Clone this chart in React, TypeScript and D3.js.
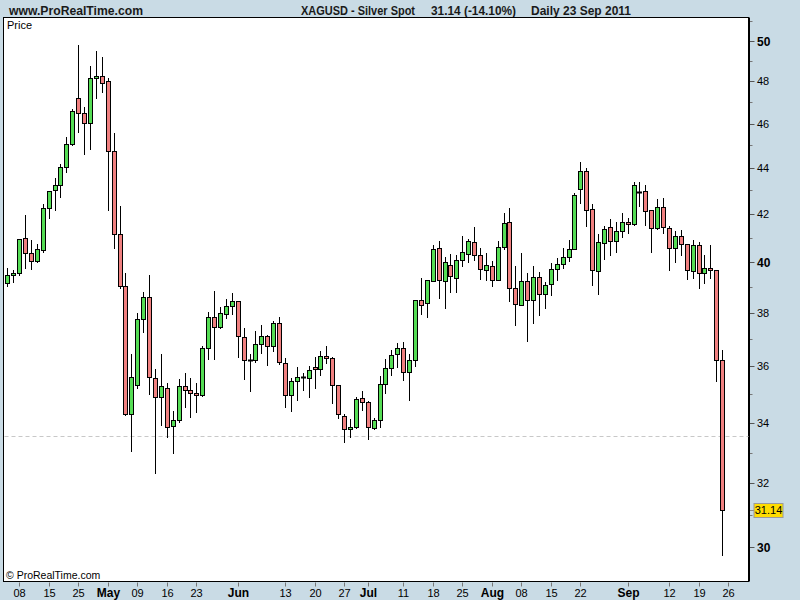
import React from 'react';
import * as d3 from 'd3';

// ---- Data ----
const opens = [39.16,39.46,39.56,40.97,40.36,40.04,40.49,42.24,43.01,43.22,44.02,45.05,47.19,46.48,46.01,48.15,48.25,48.02,44.74,41.16,39.04,34.32,35.33,37.77,38.60,35.57,34.91,35.22,33.90,34.10,35.29,35.15,35.05,34.98,36.67,37.84,37.46,37.95,38.25,38.45,37.08,36.24,36.24,36.81,37.12,36.75,37.61,36.13,34.96,35.47,35.60,35.58,35.97,35.90,36.38,36.31,35.33,34.24,33.80,33.86,34.87,34.74,33.83,34.10,35.37,35.94,36.45,36.67,35.79,36.24,38.49,38.37,39.24,40.56,39.24,39.88,39.36,40.08,40.32,40.81,40.28,39.68,39.84,39.28,40.60,41.65,38.97,38.30,39.24,38.49,39.40,38.72,39.12,39.72,39.92,40.20,40.52,43.05,43.84,42.19,39.64,40.77,41.43,40.85,41.27,41.64,41.56,42.95,42.97,42.15,41.39,42.28,41.39,40.56,41.06,40.73,39.64,40.68,39.56,39.76,39.68,36.24];
const highs = [39.76,39.69,40.94,41.95,40.90,40.73,42.42,42.97,43.53,44.15,45.37,46.67,49.80,46.76,48.76,49.50,49.20,48.15,45.55,42.34,39.56,36.46,37.99,38.81,39.49,35.90,36.46,35.40,34.40,35.54,35.76,35.58,35.40,36.75,38.02,38.85,38.22,38.53,38.76,38.46,37.42,36.45,37.31,37.54,37.16,37.69,37.84,36.31,35.58,35.97,35.76,36.01,36.34,36.57,36.74,36.34,35.34,34.32,34.14,34.91,35.12,34.77,34.17,35.65,36.27,36.60,36.85,36.89,36.45,38.49,39.37,39.28,40.68,40.86,40.20,40.32,40.28,41.06,40.93,41.43,40.56,40.36,40.04,40.85,42.02,42.24,39.84,40.36,39.56,39.84,39.60,39.20,39.96,40.16,40.56,40.89,42.88,44.24,43.97,42.40,41.15,41.48,41.77,41.64,42.02,41.81,43.35,43.35,43.22,42.16,42.62,42.66,41.48,41.27,41.31,40.74,40.89,40.81,40.28,40.68,39.69,36.61];
const lows = [39.06,39.20,39.46,39.76,39.72,40.02,40.42,41.81,42.16,42.73,43.82,45.03,45.63,44.60,44.83,47.22,47.51,42.16,40.56,38.97,34.27,33.05,35.21,37.29,35.01,32.33,33.92,33.53,32.99,34.04,34.55,34.19,34.37,34.93,36.27,36.27,37.41,37.80,37.95,36.36,35.56,35.10,36.17,36.49,36.05,36.56,36.09,34.56,34.41,34.80,35.14,34.89,35.24,35.68,36.13,34.69,34.16,33.34,33.53,33.83,34.46,33.46,33.79,33.86,35.05,35.68,35.97,35.51,34.80,36.01,37.97,37.86,39.24,38.59,38.17,38.82,38.82,39.84,40.00,40.08,39.32,39.28,39.04,39.27,40.52,38.45,37.54,38.29,36.95,37.61,37.90,38.17,38.68,39.28,39.76,40.04,40.51,42.45,41.48,39.08,38.72,40.12,40.28,40.40,41.02,41.19,41.52,42.33,41.52,40.40,41.35,41.19,39.68,40.00,40.28,39.32,39.36,38.97,39.16,39.36,35.46,29.76];
const closes = [39.46,39.56,40.93,40.36,40.04,40.52,42.24,42.97,43.22,44.03,45.05,46.59,46.48,46.01,48.15,48.25,47.91,44.74,41.16,39.03,34.32,35.61,37.77,38.60,35.61,34.91,35.29,33.86,34.10,35.29,35.15,35.05,34.98,36.67,37.84,37.46,37.99,38.25,38.45,37.12,36.24,36.24,36.81,37.12,36.75,37.61,36.17,34.96,35.47,35.61,35.60,35.87,35.90,36.38,36.31,35.33,34.32,33.80,33.86,34.84,34.74,33.86,34.10,35.37,35.94,36.41,36.67,35.79,36.24,38.49,38.30,39.28,40.52,39.28,40.00,39.44,40.08,40.40,40.85,40.28,39.72,39.88,39.28,40.60,41.60,38.97,38.34,39.24,38.49,39.40,38.72,39.08,39.72,39.92,40.20,40.52,42.79,43.84,42.15,39.68,40.81,41.35,40.85,41.27,41.64,41.56,43.22,42.95,42.11,41.39,42.28,41.43,40.56,41.06,40.73,39.68,40.68,39.56,39.76,39.68,36.24,31.14];

const firstDate = '2011-04-06';
const holidays = ['2011-04-22'];

const yMajorTicks = [30, 32, 34, 36, 38, 40, 42, 44, 46, 48, 50];
const yBoldTicks = [30, 40, 50];
const yMinorTicks = [31, 33, 35, 37, 39, 41, 43, 45, 47, 49, 51];

const xTickDates = ['2011-04-08','2011-04-15','2011-04-25','2011-05-02','2011-05-09','2011-05-16','2011-05-23','2011-06-01','2011-06-13','2011-06-20','2011-06-27','2011-07-01','2011-07-11','2011-07-18','2011-07-25','2011-08-01','2011-08-08','2011-08-15','2011-08-22','2011-09-01','2011-09-12','2011-09-19','2011-09-26'];
const xTickLabels = ['08','15','25','May','09','16','23','Jun','13','20','27','Jul','11','18','25','Aug','08','15','22','Sep','12','19','26'];
const monthLabels = ['May', 'Jun', 'Jul', 'Aug', 'Sep'];

const refLinePrice = 33.55;
const lastPrice = 31.14;

const titleLeft = 'www.ProRealTime.com';
const titleName = 'XAGUSD - Silver Spot';
const titleChange = '31.14 (-14.10%)';
const titleDate = 'Daily  23 Sep 2011';

// ---- Layout ----
const W = 800, H = 600;
const plotL = 3.5, plotR = 748.5, plotT = 17.5, plotB = 581.5;
const BG = '#c9dbe5';
const GREEN = '#55dd55';
const RED = '#f08080';
const AXIS_FONT = "'Liberation Sans', Arial, sans-serif";
const NARROW_FONT = "'Liberation Sans Narrow', 'Arial Narrow', 'Liberation Sans', sans-serif";

export default function App() {
  const parse = d3.utcParse('%Y-%m-%d');
  const fmt = d3.utcFormat('%Y-%m-%d');
  const days: string[] = [];
  let d = parse(firstDate)!;
  while (days.length < opens.length + 1) {
    const wd = d.getUTCDay();
    const s = fmt(d);
    if (wd !== 0 && wd !== 6 && !holidays.includes(s)) days.push(s);
    d = d3.utcDay.offset(d, 1);
  }
  const dayIndex = new Map(days.map((s, i) => [s, i]));

  const x = d3.scaleLinear().domain([0, opens.length]).range([7.8, 728.6]);
  const y = d3.scaleLog().domain([30, 50]).range([547, 41]);

  const ry = (p: number) => Math.round(y(p));

  const candles = opens.map((o, i) => {
    const c = closes[i], h = highs[i], l = lows[i];
    const cx = Math.floor(x(i)) + 0.5;
    const top = ry(Math.max(o, c));
    const bot = ry(Math.min(o, c));
    const color = c > o ? GREEN : c < o ? RED : null;
    return { i, cx, top, bot, hy: ry(h), ly: ry(l), color };
  });

  const titleProps = { fontFamily: NARROW_FONT, fontSize: 13, fontWeight: 'bold' as const, fill: '#1a1a1a', lengthAdjust: 'spacingAndGlyphs' };

  return (
    <svg width={W} height={H} style={{ display: 'block', position: 'absolute', left: 0, top: 0 }}>
      <style>{`body{margin:0}`}</style>
      <rect x={0} y={0} width={W} height={H} fill={BG} />
      {/* header */}
      <text x={9} y={15} {...titleProps} textLength={134}>{titleLeft}</text>
      <text x={301} y={15} {...titleProps} textLength={114}>{titleName}</text>
      <text x={431} y={15} {...titleProps} textLength={85}>{titleChange}</text>
      <text x={531} y={15} {...titleProps} textLength={100}>{titleDate}</text>

      {/* plot */}
      <rect x={plotL} y={plotT} width={plotR - plotL} height={plotB - plotT} fill="#fff" stroke="#000" strokeWidth={1} />
      <line x1={plotR + 1} x2={plotR + 1} y1={plotT} y2={plotB} stroke="#000" strokeWidth={1} />
      <text x={7} y={29} fontFamily={AXIS_FONT} fontSize={11} fill="#000">Price</text>
      <text x={6} y={579} fontFamily={AXIS_FONT} fontSize={10.5} fill="#000">© ProRealTime.com</text>

      {/* reference dashed line */}
      <line x1={plotL + 1} x2={plotR} y1={ry(refLinePrice) + 0.5} y2={ry(refLinePrice) + 0.5} stroke="#c8c8c8" strokeDasharray="4,3" strokeWidth={1} />

      {/* candles */}
      <g>
        {candles.map(k => (
          <line key={'w' + k.i} x1={k.cx} x2={k.cx} y1={k.hy} y2={k.ly + 1} stroke="#000" strokeWidth={1} />
        ))}
        {candles.map(k => k.color ? (
          <rect key={'b' + k.i} x={k.cx - 2} y={k.top + 0.5} width={4} height={Math.max(k.bot - k.top, 1)} fill={k.color} stroke="#000" strokeWidth={1} />
        ) : (
          <rect key={'b' + k.i} x={k.cx - 2.5} y={k.top - 0.5} width={5} height={2} fill="#000" />
        ))}
      </g>

      {/* y axis */}
      <g>
        {yMajorTicks.map(t => (
          <g key={'ym' + t}>
            <line x1={plotR + 1.5} x2={plotR + 6} y1={ry(t) + 0.5} y2={ry(t) + 0.5} stroke="#555" />
            <text x={757} y={ry(t) + 0.5} dy="0.36em" fontFamily={AXIS_FONT} fontSize={yBoldTicks.includes(t) ? 12 : 11} fontWeight={yBoldTicks.includes(t) ? 'bold' : 'normal'} fill="#000">{t}</text>
          </g>
        ))}
        {yMinorTicks.filter(t => y(t) > plotT && y(t) < plotB).map(t => (
          <line key={'yn' + t} x1={plotR + 1.5} x2={plotR + 4} y1={ry(t) + 0.5} y2={ry(t) + 0.5} stroke="#777" />
        ))}
        <line x1={plotR + 1.5} x2={754} y1={ry(lastPrice) + 0.5} y2={ry(lastPrice) + 0.5} stroke="#888" />
        <rect x={754} y={503.5} width={29} height={14} fill="#ffdd00" stroke="#9a9a9a" />
        <text x={768.5} y={ry(lastPrice) + 0.5} dy="0.36em" textAnchor="middle" fontFamily={AXIS_FONT} fontSize={11} fill="#000">{lastPrice.toFixed(2)}</text>
      </g>

      {/* x axis */}
      <g>
        {xTickDates.map((s, j) => {
          const idx = dayIndex.get(s) ?? 0;
          const tx = Math.floor(x(idx)) + 0.5;
          const isMonth = monthLabels.includes(xTickLabels[j]);
          return (
            <g key={'xt' + s}>
              <line x1={tx} x2={tx} y1={plotB + 1} y2={plotB + 5} stroke="#777" />
              <text x={tx} y={597} textAnchor="middle" fontFamily={AXIS_FONT} fontSize={isMonth ? 12 : 11} fontWeight={isMonth ? 'bold' : 'normal'} fill="#000">{xTickLabels[j]}</text>
            </g>
          );
        })}
      </g>
    </svg>
  );
}
